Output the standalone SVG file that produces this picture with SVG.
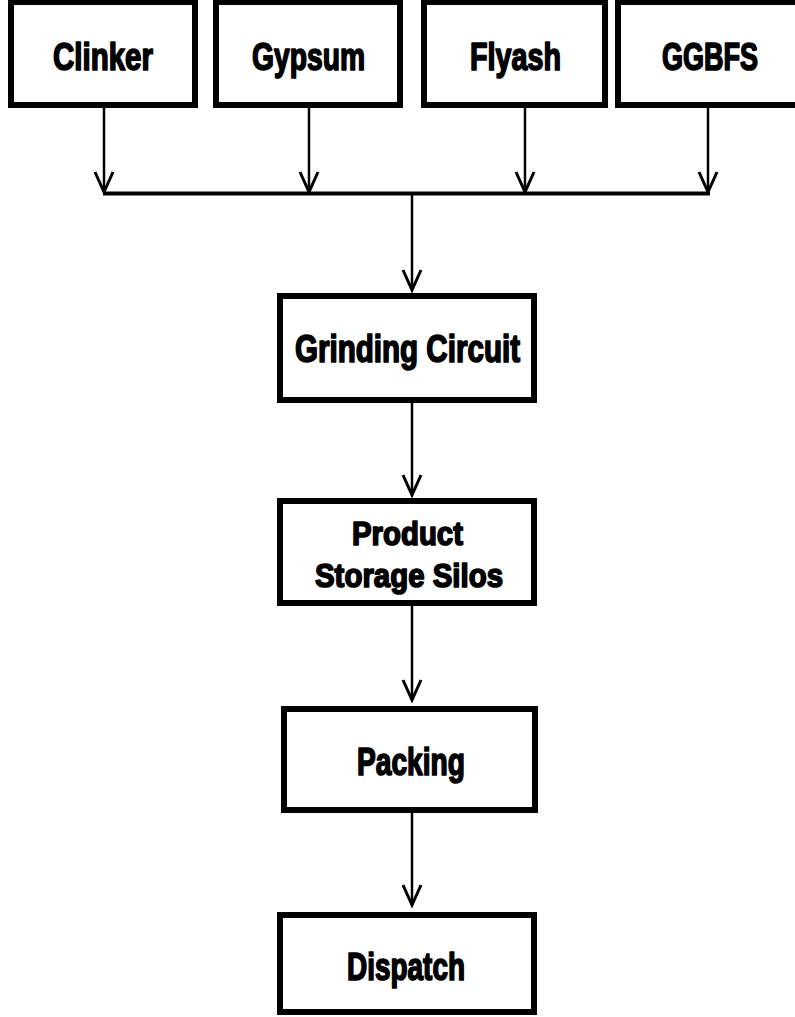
<svg xmlns="http://www.w3.org/2000/svg" width="795" height="1017" viewBox="0 0 795 1017">
<style>
.box{fill:#fff;stroke:#000;stroke-width:6}
.lbl{font-family:"Liberation Sans",Arial,sans-serif;font-weight:bold;font-size:38px;fill:#000;stroke:#000;stroke-width:1.7;stroke-linejoin:round;text-anchor:middle}
.sm{font-size:34px}
.ln{fill:none;stroke:#000;stroke-width:2.5}
.bus{fill:none;stroke:#000;stroke-width:4}
</style>
<defs>
<marker id="ah" markerUnits="userSpaceOnUse" markerWidth="26" markerHeight="26" viewBox="-23 -13 26 26" refX="0" refY="0" orient="auto">
<path d="M-20,-9 L0,0 L-20,9" fill="none" stroke="#000" stroke-width="3"/>
</marker>
</defs>
<rect width="795" height="1017" fill="#fff"/>
<g id="connectors">
<line class="ln" x1="104" y1="108" x2="104" y2="192" marker-end="url(#ah)"/>
<line class="ln" x1="309" y1="108" x2="309" y2="192" marker-end="url(#ah)"/>
<line class="ln" x1="525" y1="108" x2="525" y2="192" marker-end="url(#ah)"/>
<line class="ln" x1="708" y1="108" x2="708" y2="192" marker-end="url(#ah)"/>
<line class="bus" x1="103" y1="193.5" x2="710" y2="193.5"/>
<line class="ln" x1="412" y1="193" x2="412" y2="290" marker-end="url(#ah)"/>
<line class="ln" x1="412" y1="403" x2="412" y2="495" marker-end="url(#ah)"/>
<line class="ln" x1="412" y1="606" x2="412" y2="700" marker-end="url(#ah)"/>
<line class="ln" x1="412" y1="813" x2="412" y2="905" marker-end="url(#ah)"/>
</g>
<g id="clinker">
<rect class="box" x="11" y="2" width="184" height="103"/>
<text class="lbl" x="103" y="70" textLength="100" lengthAdjust="spacingAndGlyphs">Clinker</text>
</g>
<g id="gypsum">
<rect class="box" x="216" y="2" width="184" height="103"/>
<text class="lbl" x="308.5" y="70" textLength="113" lengthAdjust="spacingAndGlyphs">Gypsum</text>
</g>
<g id="flyash">
<rect class="box" x="424" y="2" width="181" height="103"/>
<text class="lbl" x="515.5" y="70" textLength="91" lengthAdjust="spacingAndGlyphs">Flyash</text>
</g>
<g id="ggbfs">
<rect class="box" x="618" y="2" width="180" height="103"/>
<text class="lbl" x="710" y="70" textLength="96" lengthAdjust="spacingAndGlyphs">GGBFS</text>
</g>
<g id="grinding">
<rect class="box" x="280" y="296" width="254" height="104"/>
<text class="lbl" x="407.5" y="362" textLength="225" lengthAdjust="spacingAndGlyphs">Grinding Circuit</text>
</g>
<g id="silos">
<rect class="box" x="280" y="501" width="254" height="102"/>
<text class="lbl sm" x="407.5" y="545" textLength="111" lengthAdjust="spacingAndGlyphs">Product</text>
<text class="lbl sm" x="409" y="587" textLength="188" lengthAdjust="spacingAndGlyphs">Storage Silos</text>
</g>
<g id="packing">
<rect class="box" x="284" y="709" width="251" height="101"/>
<text class="lbl" x="411" y="775" textLength="108" lengthAdjust="spacingAndGlyphs">Packing</text>
</g>
<g id="dispatch">
<rect class="box" x="280" y="915" width="254" height="97"/>
<text class="lbl" x="406" y="980" textLength="118" lengthAdjust="spacingAndGlyphs">Dispatch</text>
</g>
</svg>
